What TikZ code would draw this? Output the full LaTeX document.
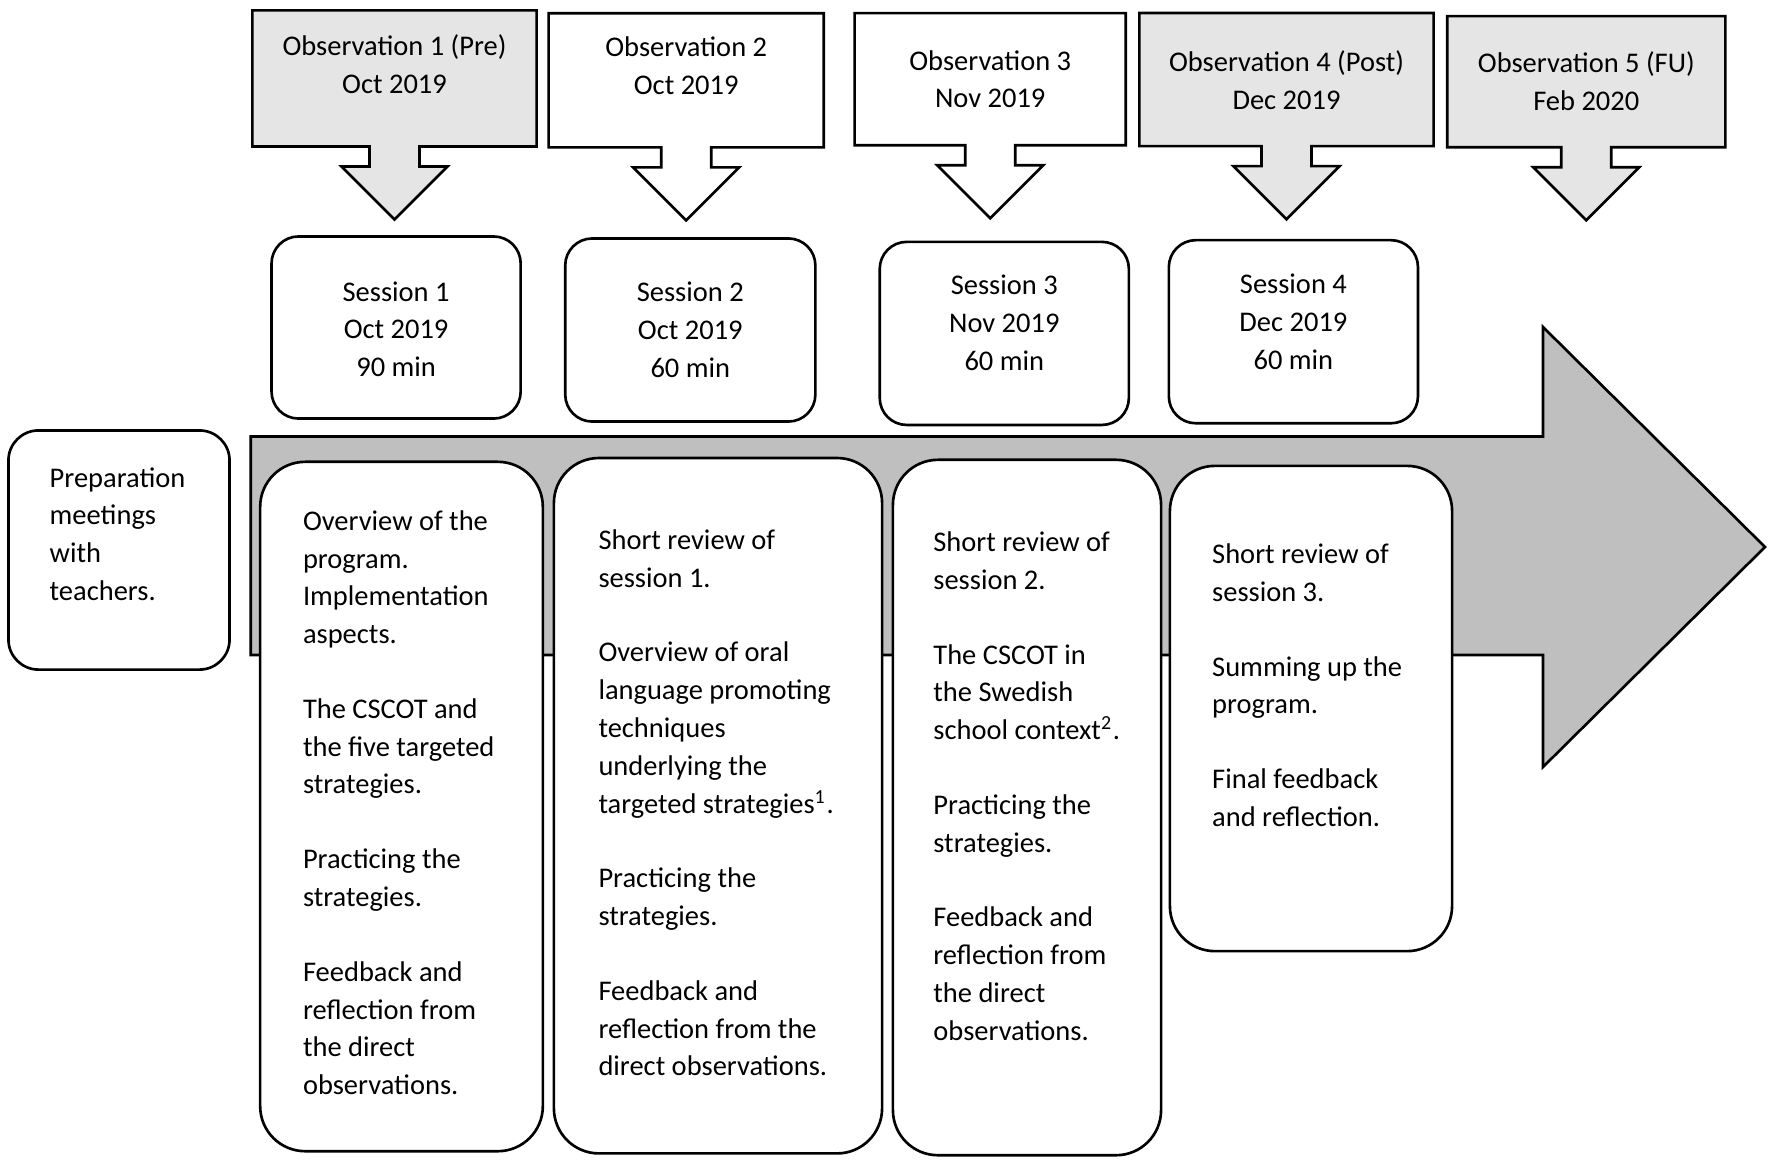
\documentclass[tikz,border=0pt]{standalone}
\usepackage{fontspec}
\setmainfont{Carlito}
\usetikzlibrary{calc}
\definecolor{obsgray}{gray}{0.9}
\definecolor{timegray}{gray}{0.75}

\newcommand{\callout}[2]{%
  \draw[line width=0.75pt, fill=#2]
    (#1.north west) -- (#1.north east) -- (#1.south east)
    -- ($(#1.south)+(25,0)$) -- ++(0,20) -- ++(28,0)
    -- ($(#1.south)+(0,73)$)
    -- ($(#1.south)+(-53,20)$) -- ++(28,0)
    -- ($(#1.south)+(-25,0)$) -- (#1.south west) -- cycle;
}

\begin{document}
\begin{tikzpicture}[x=0.01cm, y=-0.01cm,
    obsbox/.style={inner sep=0, outer sep=0},
    sesbox/.style={draw, line width=0.75pt, fill=white, rounded corners=2.7mm, inner sep=0, outer sep=0},
    detbox/.style={draw, line width=0.75pt, fill=white, rounded corners=4.5mm, inner sep=0, outer sep=0},
    txt/.style={font=\fontsize{8.1pt}{10.75pt}\selectfont, align=center, inner sep=0},
    ltxt/.style={txt, align=left, anchor=north west}]
    \useasboundingbox (0,0) rectangle (1772,1169);

    \draw[line width=0.75pt, fill=timegray] (250.7,436.5) -- (1543,436.5) -- (1543,327) -- (1765,547)
        -- (1543,767) -- (1543,655) -- (250.7,655) -- cycle;

    \node[detbox, minimum width=22.1mm, minimum height=23.9mm, rounded corners=3mm] (prep) at (119,550) {};
    \node[ltxt] (preptxt) at (49,466.7) {Preparation\\meetings\\with\\teachers.};

    \node[detbox, minimum width=28.25mm, minimum height=68.9mm] (det1) at (401.5,806.5) {};
    \node[detbox, minimum width=32.8mm, minimum height=69.5mm] (det2) at (718,805.7) {};
    \node[detbox, minimum width=26.8mm, minimum height=69.5mm] (det3) at (1027,807.5) {};
    \node[detbox, minimum width=28.2mm, minimum height=48.5mm] (det4) at (1311,708.5) {};

    \node[ltxt] (det1txt) at (302.3,509.7) {Overview of the\\program.\\Implementation\\aspects.\\[10.5pt]
        The CSCOT and\\the five targeted\\strategies.\\[10.5pt]
        Practicing the\\strategies.\\[10.5pt]
        Feedback and\\reflection from\\the direct\\observations.};
    \node[ltxt] (det2txt) at (597.8,528.8) {Short review of\\session 1.\\[10.5pt]
        Overview of oral\\language promoting\\techniques\\underlying the\\targeted strategies\textsuperscript{1}.\\[10.5pt]
        Practicing the\\strategies.\\[10.5pt]
        Feedback and\\reflection from the\\direct observations.};
    \node[ltxt] (det3txt) at (932.7,531) {Short review of\\session 2.\\[10.5pt]
        The CSCOT in\\the Swedish\\school context\textsuperscript{2}.\\[10.5pt]
        Practicing the\\strategies.\\[10.5pt]
        Feedback and\\reflection from\\the direct\\observations.};
    \node[ltxt] (det4txt) at (1211.5,543) {Short review of\\session 3.\\[10.5pt]
        Summing up the\\program.\\[10.5pt]
        Final feedback\\and reflection.};

    \node[sesbox, minimum width=24.9mm, minimum height=18.2mm] (ses1) at (396.1,327.5) {};
    \node[sesbox, minimum width=25mm, minimum height=18.3mm] (ses2) at (690.3,330) {};
    \node[sesbox, minimum width=24.9mm, minimum height=18.3mm] (ses3) at (1004.3,333.4) {};
    \node[sesbox, minimum width=24.9mm, minimum height=18.3mm] (ses4) at (1293.4,331.7) {};
    \node[txt] (ses1txt) at (396.1,329.2) {Session 1\\Oct 2019\\90 min};
    \node[txt] (ses2txt) at (690.3,330) {Session 2\\Oct 2019\\60 min};
    \node[txt] (ses3txt) at (1004.3,322.7) {Session 3\\Nov 2019\\60 min};
    \node[txt] (ses4txt) at (1293.4,321.7) {Session 4\\Dec 2019\\60 min};

    \node[obsbox, minimum width=28.4mm, minimum height=13.6mm] (obs1) at (394.5,78.4) {};
    \node[obsbox, minimum width=27.5mm, minimum height=13.4mm] (obs2) at (686.2,80.3) {};
    \node[obsbox, minimum width=27.1mm, minimum height=13.2mm] (obs3) at (990.2,79.2) {};
    \node[obsbox, minimum width=29.4mm, minimum height=13.3mm] (obs4) at (1286.5,79.6) {};
    \node[obsbox, minimum width=27.8mm, minimum height=13.1mm] (obs5) at (1586.3,81.7) {};
    \callout{obs1}{obsgray}
    \callout{obs2}{white}
    \callout{obs3}{white}
    \callout{obs4}{obsgray}
    \callout{obs5}{obsgray}
    \node[txt] (obs1txt) at (394.5,64.2) {Observation 1 (Pre)\\Oct 2019};
    \node[txt] (obs2txt) at (686.2,65.8) {Observation 2\\Oct 2019};
    \node[txt] (obs3txt) at (990.2,79.2) {Observation 3\\Nov 2019};
    \node[txt] (obs4txt) at (1286.5,80) {Observation 4 (Post)\\Dec 2019};
    \node[txt] (obs5txt) at (1586.3,80.8) {Observation 5 (FU)\\Feb 2020};
\end{tikzpicture}
\end{document}
